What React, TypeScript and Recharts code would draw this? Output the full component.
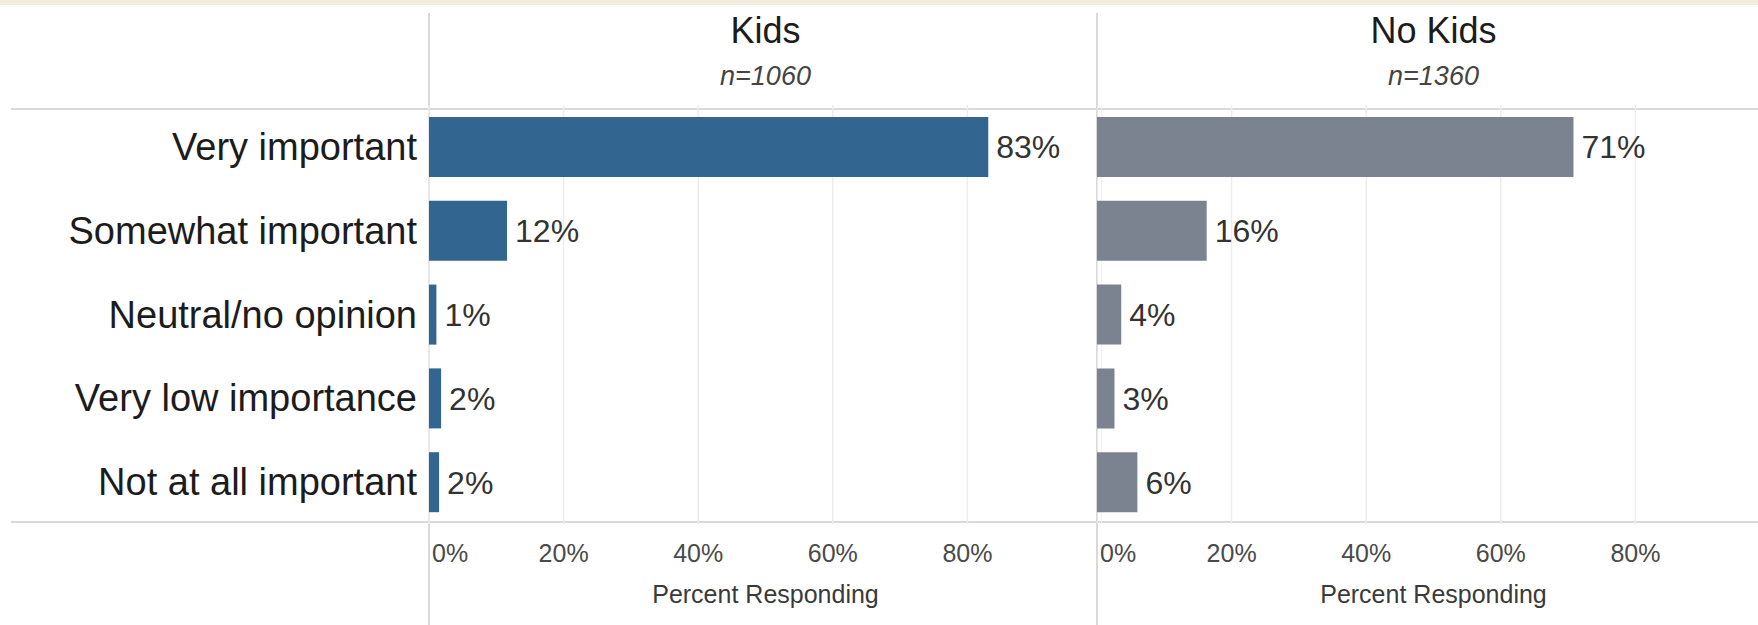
import { BarChart, Bar, XAxis, YAxis, CartesianGrid, LabelList } from "recharts";

const categories = [
  "Very important",
  "Somewhat important",
  "Neutral/no opinion",
  "Very low importance",
  "Not at all important",
];
const kidsValues = [83.1, 11.6, 1.1, 1.8, 1.5];
const noKidsValues = [70.8, 16.3, 3.6, 2.6, 6.0];
const xTicks = [0, 20, 40, 60, 80];
const panels = [
  { title: "Kids", n: "n=1060" },
  { title: "No Kids", n: "n=1360" },
];

const rows = categories.map((cat, i) => ({ cat, kids: kidsValues[i], noKids: noKidsValues[i] }));

const FONT = "'Liberation Sans', Arial, sans-serif";
const LINE = "#d9d9d9";
const W = 1758;
const H = 625;
const HEADER_Y = 109;
const BASE_Y = 522;
const PLOT_TOP = 105;
const PLOT_BOTTOM = 524;
const AXIS_H = 60;
const LABEL_W = 429;
const PANEL_W = 673;
const PANEL2_X = 1097;

const pct = (v: number) => `${Math.round(v)}%`;

function PctTick({ x, y, payload }: any) {
  const first = payload.value === 0;
  return (
    <text
      x={first ? x + 3 : x}
      y={y + 29}
      textAnchor={first ? "start" : "middle"}
      dominantBaseline="central"
      fontSize={25}
      fill="#4a4a4a"
      fontFamily={FONT}
    >
      {payload.value}%
    </text>
  );
}

function CatTick({ x, y, payload }: any) {
  return (
    <text x={x - 12} y={y} textAnchor="end" dominantBaseline="central" fontSize={38} fill="#1c1c1c" fontFamily={FONT}>
      {payload.value}
    </text>
  );
}

function Panel({ dataKey, color, withLabels }: { dataKey: string; color: string; withLabels: boolean }) {
  const width = withLabels ? LABEL_W + PANEL_W : PANEL_W;
  return (
    <BarChart
      layout="vertical"
      width={width}
      height={H}
      data={rows}
      margin={{ top: PLOT_TOP, right: 0, left: 0, bottom: H - PLOT_BOTTOM - AXIS_H }}
    >
      <CartesianGrid horizontal={false} stroke="#ededed" strokeWidth={1.5} />
      <XAxis
        type="number"
        domain={[0, 100]}
        ticks={xTicks}
        interval={0}
        height={AXIS_H}
        axisLine={false}
        tickLine={false}
        tickSize={0}
        tickMargin={0}
        tick={<PctTick />}
      />
      <YAxis
        type="category"
        dataKey="cat"
        width={withLabels ? LABEL_W : 0}
        hide={!withLabels}
        axisLine={false}
        tickLine={false}
        tickSize={0}
        tickMargin={0}
        tick={<CatTick />}
      />
      <Bar dataKey={dataKey} fill={color} barSize={60} isAnimationActive={false}>
        <LabelList
          dataKey={dataKey}
          position="right"
          offset={8}
          formatter={(v: any) => pct(Number(v))}
          style={{ fontSize: 32, fill: "#333", fontFamily: FONT }}
        />
      </Bar>
    </BarChart>
  );
}

export default function App() {
  const abs = (s: any) => ({ position: "absolute" as const, ...s });
  const panelX = [LABEL_W, PANEL2_X];
  return (
    <div style={{ position: "fixed", top: 0, left: 0, width: W, height: H, overflow: "hidden", background: "#fff", fontFamily: FONT }}>
      {/* frame lines */}
      <div style={abs({ top: 0, left: 0, width: W, height: 5, background: "#f1ecdf" })} />
      <div style={abs({ top: HEADER_Y - 1, left: 11, width: W - 11, height: 2, background: LINE })} />
      <div style={abs({ top: BASE_Y - 1, left: 11, width: W - 11, height: 2, background: LINE })} />
      {panelX.map((x) => (
        <div key={x} style={abs({ top: 13, left: x - 1, width: 2, height: H - 13, background: LINE })} />
      ))}

      {/* panel headers + axis titles */}
      {panels.map((p, i) => (
        <div key={p.title}>
          <div style={abs({ top: 13, left: panelX[i], width: PANEL_W, textAlign: "center", fontSize: 36, lineHeight: "36px", color: "#1c1c1c" })}>
            {p.title}
          </div>
          <div style={abs({ top: 62, left: panelX[i], width: PANEL_W, textAlign: "center", fontSize: 27, lineHeight: "28px", fontStyle: "italic", color: "#444" })}>
            {p.n}
          </div>
          <div style={abs({ top: 580, left: panelX[i], width: PANEL_W, textAlign: "center", fontSize: 25, lineHeight: "28px", color: "#3a3a3a" })}>
            Percent Responding
          </div>
        </div>
      ))}

      <div style={abs({ top: 0, left: 0 })}>
        <Panel dataKey="kids" color="#336591" withLabels />
      </div>
      <div style={abs({ top: 0, left: PANEL2_X })}>
        <Panel dataKey="noKids" color="#7b8290" withLabels={false} />
      </div>
    </div>
  );
}
